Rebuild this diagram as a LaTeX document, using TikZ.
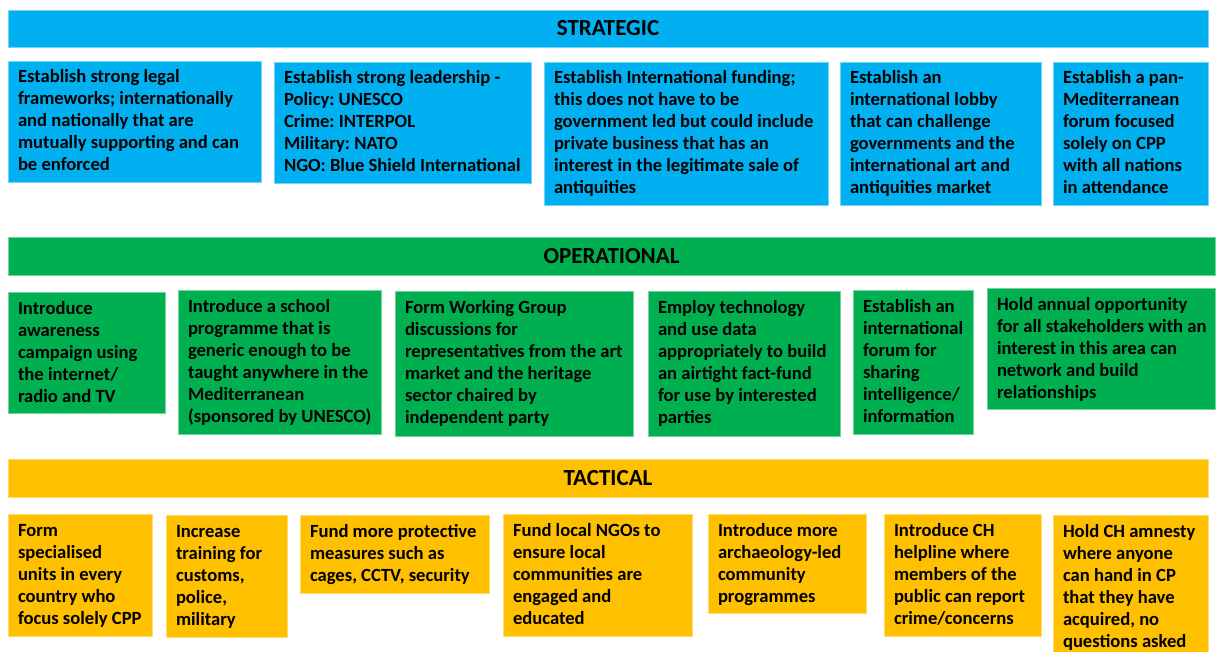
\documentclass[tikz,border=0pt]{standalone}
\usepackage{fontspec}
\setmainfont{Carlito}
\frenchspacing
\definecolor{stratblue}{HTML}{00B0F0}
\definecolor{opgreen}{HTML}{00B050}
\definecolor{tacgold}{HTML}{FFC000}
\tikzset{
  hdr/.style={fill=#1, draw=#1!55!white, line width=0.8pt, anchor=north west,
    inner sep=0pt, outer sep=0pt, font=\fontsize{23}{26}\selectfont\bfseries},
  cellbox/.style={fill=#1, draw=#1!55!white, line width=0.8pt, anchor=north west,
    inner sep=0pt, outer sep=0pt},
  celltxt/.style={anchor=north west, inner sep=0pt, outer sep=0pt, align=left,
    font=\fontsize{18.6}{22}\selectfont\bfseries},
}
\newcommand\mkcell[7]{%
  \node[cellbox=#2, minimum width=#5pt, minimum height=#6pt] (#1) at (#3,#4) {};
  \node[celltxt] (#1-t) at ([xshift=10pt]#1.north west) {\rule{0pt}{22pt}#7};
}
\begin{document}
\begin{tikzpicture}[x=1pt,y=-1pt]
\useasboundingbox (0,0) rectangle (1221,652);
% STRATEGIC
\node[hdr=stratblue, minimum width=1200pt, minimum height=37pt] (strategic) at (8,10) {STRATEGIC};
\mkcell{s1}{stratblue}{8}{61}{253}{121}{Establish strong legal\\frameworks; internationally\\and nationally that are\\mutually supporting and can\\be enforced}
\mkcell{s2}{stratblue}{274}{62}{257}{121}{Establish strong leadership -\\Policy: UNESCO\\Crime: INTERPOL\\Military: NATO\\NGO: Blue Shield International}
\mkcell{s3}{stratblue}{544}{62}{284}{143}{Establish International funding;\\this does not have to be\\government led but could include\\private business that has an\\interest in the legitimate sale of\\antiquities}
\mkcell{s4}{stratblue}{840}{62}{201}{143}{Establish an\\international lobby\\that can challenge\\governments and the\\international art and\\antiquities market}
\mkcell{s5}{stratblue}{1053}{62}{155}{143}{Establish a pan-\\Mediterranean\\forum focused\\solely on CPP\\with all nations\\in attendance}
% OPERATIONAL
\node[hdr=opgreen, minimum width=1207pt, minimum height=38pt] (operational) at (8,237) {OPERATIONAL};
\mkcell{o1}{opgreen}{8}{292}{157}{121}{Introduce\\awareness\\campaign using\\the internet/\\radio and TV}
\mkcell{o2}{opgreen}{178}{290}{203}{144}{Introduce a school\\programme that is\\generic enough to be\\taught anywhere in the\\Mediterranean\\(sponsored by UNESCO)}
\mkcell{o3}{opgreen}{395}{291}{238}{145}{Form Working Group\\discussions for\\representatives from the art\\market and the heritage\\sector chaired by\\independent party}
\mkcell{o4}{opgreen}{648}{291}{192}{145}{Employ technology\\and use data\\appropriately to build\\an airtight fact-fund\\for use by interested\\parties}
\mkcell{o5}{opgreen}{853}{290}{120}{144}{Establish an\\international\\forum for\\sharing\\intelligence/\\information}
\mkcell{o6}{opgreen}{987}{288}{228}{121}{Hold annual opportunity\\for all stakeholders with an\\interest in this area can\\network and build\\relationships}
% TACTICAL
\node[hdr=tacgold, minimum width=1200pt, minimum height=38pt] (tactical) at (8,459) {TACTICAL};
\mkcell{t1}{tacgold}{8}{514}{144}{122}{Form\\specialised\\units in every\\country who\\focus solely CPP}
\mkcell{t2}{tacgold}{166}{515}{121}{122}{Increase\\training for\\customs,\\police,\\military}
\mkcell{t3}{tacgold}{300}{515}{189}{78}{Fund more protective\\measures such as\\cages, CCTV, security}
\mkcell{t4}{tacgold}{503}{514}{189}{122}{Fund local NGOs to\\ensure local\\communities are\\engaged and\\educated}
\mkcell{t5}{tacgold}{708}{514}{158}{99}{Introduce more\\archaeology-led\\community\\programmes}
\mkcell{t6}{tacgold}{884}{514}{157}{122}{Introduce CH\\helpline where\\members of the\\public can report\\crime/concerns}
\mkcell{t7}{tacgold}{1053}{515}{155}{140}{Hold CH amnesty\\where anyone\\can hand in CP\\that they have\\acquired, no\\questions asked}
\end{tikzpicture}
\end{document}
